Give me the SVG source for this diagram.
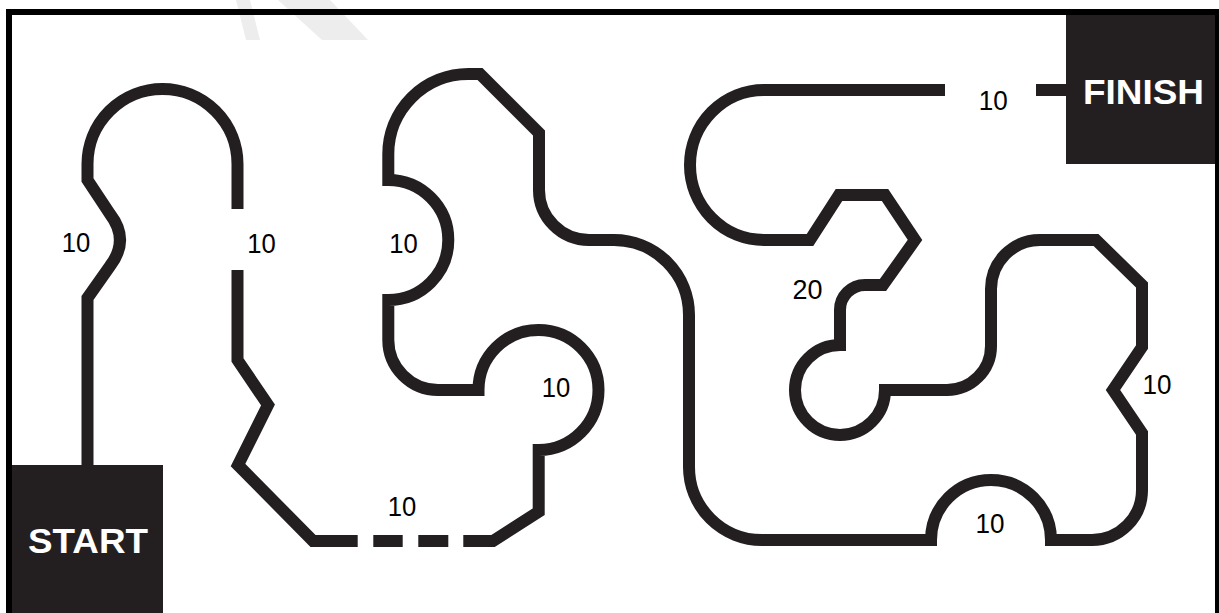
<svg xmlns="http://www.w3.org/2000/svg" width="1219" height="613" viewBox="0 0 1219 613">
<style>
.trk{fill:none;stroke:#231f20;stroke-width:12;stroke-linejoin:miter;stroke-miterlimit:10;stroke-linecap:butt}
.lbl{font-family:"Liberation Sans",Arial,sans-serif;font-size:28px;fill:#000}
.box{fill:#231f20}
.boxt{font-family:"Liberation Sans",Arial,sans-serif;font-weight:bold;font-size:35px;fill:#fff;text-anchor:middle}
.wm{fill:#ededed}
</style>
<rect x="0" y="0" width="1219" height="613" fill="#fff"/>
<g id="watermark">
<polygon class="wm" points="236,0 250,0 260,40 246,40"/>
<polygon class="wm" points="278,0 330,0 368,40 322,40"/>
</g>
<g id="frame" stroke="#000" fill="none">
<line x1="9" y1="9" x2="9" y2="613" stroke-width="6"/>
<line x1="6" y1="12" x2="1219" y2="12" stroke-width="6"/>
<line x1="1217" y1="9" x2="1217" y2="613" stroke-width="4"/>
</g>
<g id="connectors">
<path class="trk" d="M87.5,465 V298 L110,266 Q130,240 110,214 L87.5,180 V164 A75,75 0 0 1 237.5,164 V209"/>
<path class="trk" d="M237.5,270 V360 L268,405 L238,465 L313,541 H357.7"/>
<path class="trk" d="M373.3,541 H402.7 M418.3,541 H448.3"/>
<path class="trk" d="M463.3,541 H493 L538.7,511.7 V450 A60,60 0 1 0 478.5,390 H438 A50,50 0 0 1 388.3,340 V300 A60,60 0 0 0 388.3,180 V154 A80,80 0 0 1 468.3,74 H480 L539,133 V190 A50,50 0 0 0 589,240 H614 A75,75 0 0 1 689,315 V467 A73,73 0 0 0 762,540 H931 A60,60 0 0 1 1051,540 H1092 A50,50 0 0 0 1142,490 V433 L1113,390 L1142,347 V285 L1096,240 H1040 A49,49 0 0 0 991,289 V346 A44,44 0 0 1 947,390 H885 A45,45 0 1 1 840,345 V310 A25,25 0 0 1 865,285 H883 L915,240 L885,195 H839 L810,240 H764 A74,75 0 0 1 764,90 H945"/>
<path class="trk" d="M1036,90 H1066"/>
</g>
<g id="start">
<rect class="box" x="12" y="465" width="151" height="148"/>
<text class="boxt" x="88" y="553" textLength="120" lengthAdjust="spacingAndGlyphs">START</text>
</g>
<g id="finish">
<rect class="box" x="1066" y="15" width="149" height="149"/>
<text class="boxt" x="1143.5" y="104" textLength="121" lengthAdjust="spacingAndGlyphs">FINISH</text>
</g>
<g id="labels">
<text class="lbl" x="61.7" y="252.3" textLength="28.5" lengthAdjust="spacingAndGlyphs">10</text>
<text class="lbl" x="247.3" y="253.3" textLength="28.5" lengthAdjust="spacingAndGlyphs">10</text>
<text class="lbl" x="389.3" y="253.3" textLength="28.5" lengthAdjust="spacingAndGlyphs">10</text>
<text class="lbl" x="541.7" y="397.3" textLength="28.5" lengthAdjust="spacingAndGlyphs">10</text>
<text class="lbl" x="387.7" y="516" textLength="28.5" lengthAdjust="spacingAndGlyphs">10</text>
<text class="lbl" x="978.8" y="110" textLength="29" lengthAdjust="spacingAndGlyphs">10</text>
<text class="lbl" x="792.6" y="299.3" textLength="30" lengthAdjust="spacingAndGlyphs">20</text>
<text class="lbl" x="1142.5" y="394" textLength="29" lengthAdjust="spacingAndGlyphs">10</text>
<text class="lbl" x="975.6" y="533.3" textLength="29" lengthAdjust="spacingAndGlyphs">10</text>
</g>
</svg>
